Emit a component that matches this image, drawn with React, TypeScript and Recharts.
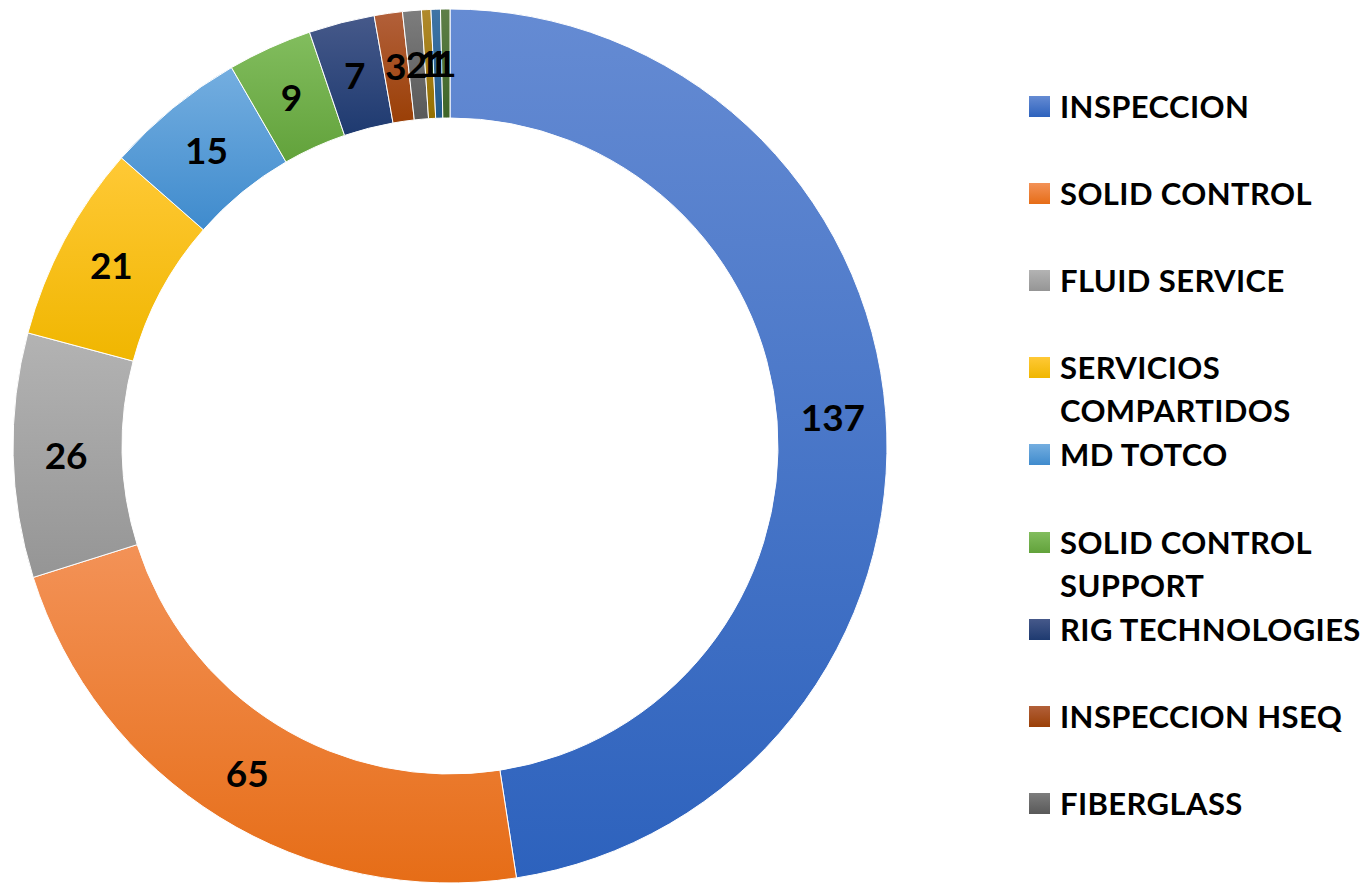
import { Cell, Pie, PieChart } from 'recharts';

const names = [
  'INSPECCION',
  'SOLID CONTROL',
  'FLUID SERVICE',
  'SERVICIOS COMPARTIDOS',
  'MD TOTCO',
  'SOLID CONTROL SUPPORT',
  'RIG TECHNOLOGIES',
  'INSPECCION HSEQ',
  'FIBERGLASS',
  'OTROS 1',
  'OTROS 2',
  'OTROS 3',
];
const counts = [137, 65, 26, 21, 15, 9, 7, 3, 2, 1, 1, 1];
// [top, bottom] of each slice's vertical gradient
const shades: [string, string][] = [
  ['#658bd3', '#2d62bd'],
  ['#f39257', '#e66d17'],
  ['#b3b3b3', '#959595'],
  ['#ffc936', '#f0b600'],
  ['#74aee0', '#3f8bcd'],
  ['#82bd5e', '#62a23b'],
  ['#46598a', '#1e3a70'],
  ['#b2603a', '#9a3f06'],
  ['#7d7d7d', '#595959'],
  ['#b08a2c', '#947000'],
  ['#4075a6', '#205a8c'],
  ['#5e7f48', '#3e6527'],
];
const legendCount = 9;

const data = names.map((name, i) => ({ name, value: counts[i] }));

const RAD = Math.PI / 180;
const FONT = 'Lato, "Open Sans", sans-serif';

function renderLabel(p: any) {
  const r = 384;
  const x = p.cx + r * Math.cos(-p.midAngle * RAD);
  const y = p.cy + r * Math.sin(-p.midAngle * RAD);
  return (
    <text
      x={x}
      y={y}
      textAnchor="middle"
      dominantBaseline="central"
      fill="#000"
      fontFamily={FONT}
      fontWeight={700}
      fontSize={37}
    >
      {p.value}
    </text>
  );
}

export default function App() {
  return (
    <div style={{ position: 'absolute', left: 0, top: 0, width: 1371, height: 884, background: '#fff' }}>
      <PieChart width={1371} height={884} margin={{ top: 0, right: 0, bottom: 0, left: 0 }}>
        <defs>
          {shades.map(([a, b], i) => (
            <linearGradient key={i} id={`g${i}`} x1="0" y1="0" x2="0" y2="1">
              <stop offset="0%" stopColor={a} />
              <stop offset="100%" stopColor={b} />
            </linearGradient>
          ))}
        </defs>
        <Pie
          data={data}
          dataKey="value"
          nameKey="name"
          cx={450}
          cy={446}
          innerRadius={328}
          outerRadius={437}
          startAngle={90}
          endAngle={-270}
          stroke="#fff"
          strokeWidth={1}
          label={renderLabel}
          labelLine={false}
          isAnimationActive={false}
        >
          {data.map((d, i) => (
            <Cell key={d.name} fill={`url(#g${i})`} />
          ))}
        </Pie>
      </PieChart>
      {data.slice(0, legendCount).map((d, i) => (
        <div
          key={d.name}
          style={{
            position: 'absolute',
            left: 1029,
            top: 106 + i * 87.1 - 21,
            width: 342,
            display: 'flex',
            alignItems: 'flex-start',
            fontFamily: FONT,
            fontWeight: 700,
            fontSize: 31,
            letterSpacing: 0.4,
            lineHeight: '43px',
            color: '#000',
          }}
        >
          <div
            style={{
              width: 21,
              height: 21,
              marginTop: 11,
              flex: 'none',
              background: `linear-gradient(${shades[i][0]}, ${shades[i][1]})`,
            }}
          />
          <div style={{ marginLeft: 10, width: 310 }}>{d.name}</div>
        </div>
      ))}
    </div>
  );
}
